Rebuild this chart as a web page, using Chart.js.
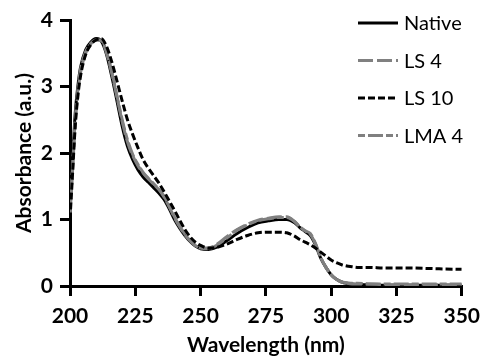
<!DOCTYPE html>
<html>
<head>
<meta charset="utf-8">
<script src="https://cdn.jsdelivr.net/npm/chart.js@4.4.0/dist/chart.umd.min.js"></script>
<style>
  html, body { margin: 0; padding: 0; background: #fff; }
  #wrap { width: 488px; height: 357px; }
</style>
</head>
<body>
<div id="wrap"><canvas id="myChart" width="488" height="357"></canvas></div>
<script>
var wavelengths = [200,201,202,203,204,206,208,210,212,214,216,218,220,222,224,226,228,230,232,234,236,238,240,242,244,246,248,250,253,256,260,264,268,272,276,280,283,286,288,290,292,294,296,298,300,302,304,306,308,310,315,320,330,340,350];

var native = [1.2,1.9,2.6,3.0,3.28,3.55,3.67,3.72,3.68,3.48,3.15,2.78,2.4,2.1,1.9,1.75,1.64,1.56,1.48,1.4,1.3,1.16,1.0,0.87,0.76,0.67,0.6,0.56,0.55,0.58,0.68,0.79,0.88,0.95,0.98,1.0,1.0,0.95,0.88,0.82,0.76,0.62,0.42,0.28,0.17,0.1,0.06,0.04,0.03,0.02,0.02,0.01,0.01,0.01,0.01];
var ls4 = [1.1,1.8,2.5,2.95,3.25,3.52,3.65,3.7,3.69,3.5,3.2,2.84,2.47,2.17,1.96,1.81,1.7,1.61,1.53,1.45,1.34,1.19,1.03,0.89,0.77,0.68,0.61,0.57,0.57,0.62,0.74,0.85,0.93,0.99,1.02,1.04,1.04,0.97,0.89,0.83,0.79,0.64,0.43,0.28,0.17,0.1,0.06,0.04,0.03,0.03,0.03,0.02,0.02,0.02,0.02];
var ls10 = [1.0,1.7,2.4,2.85,3.15,3.48,3.63,3.7,3.72,3.6,3.37,3.08,2.78,2.5,2.28,2.08,1.9,1.77,1.66,1.55,1.42,1.28,1.14,0.99,0.85,0.74,0.66,0.61,0.57,0.58,0.63,0.7,0.76,0.8,0.81,0.81,0.8,0.75,0.7,0.66,0.62,0.57,0.51,0.45,0.39,0.35,0.32,0.3,0.29,0.28,0.28,0.27,0.27,0.26,0.25];
var lma4 = [1.1,1.75,2.45,2.9,3.2,3.5,3.64,3.7,3.7,3.52,3.22,2.86,2.5,2.2,1.98,1.83,1.71,1.62,1.54,1.46,1.35,1.2,1.04,0.9,0.78,0.68,0.61,0.57,0.56,0.61,0.72,0.84,0.92,0.98,1.01,1.03,1.03,0.97,0.89,0.83,0.78,0.63,0.43,0.28,0.17,0.1,0.06,0.05,0.04,0.04,0.03,0.03,0.03,0.03,0.03];

var xTicks = [200,225,250,275,300,325,350];
var yTicks = [0,1,2,3,4];

function points(values) {
  return wavelengths.map(function(w, i) { return { x: w, y: values[i] }; });
}

function line(label, values, color, dash, order) {
  return {
    label: label,
    data: points(values),
    borderColor: color,
    borderWidth: 3,
    borderDash: dash,
    pointRadius: 0,
    fill: false,
    cubicInterpolationMode: 'monotone',
    order: order
  };
}

// legend drawn inside the plot, top right
var sideLegend = {
  id: 'sideLegend',
  afterDraw: function(chart) {
    var ctx = chart.ctx;
    var x0 = 358, x1 = 398, y0 = 23, gap = 37.5;
    ctx.save();
    chart.data.datasets.forEach(function(ds, i) {
      var y = y0 + i * gap;
      ctx.beginPath();
      ctx.setLineDash(ds.borderDash || []);
      ctx.lineWidth = 3;
      ctx.strokeStyle = ds.borderColor;
      ctx.moveTo(x0, y);
      ctx.lineTo(x1, y);
      ctx.stroke();
      ctx.setLineDash([]);
      ctx.fillStyle = '#000';
      ctx.font = '20px Lato';
      ctx.textBaseline = 'middle';
      ctx.fillText(ds.label, 404, y + 1);
    });
    ctx.restore();
  }
};

var tickFont = { family: 'Lato', size: 21, weight: 'bold' };
var titleFont = { family: 'Lato', size: 21, weight: 'bold', lineHeight: 1 };

var ctx = document.getElementById('myChart').getContext('2d');
var chart = new Chart(ctx, {
  type: 'line',
  data: {
    datasets: [
      line('Native', native, '#000000', [], 4),
      line('LS 4', ls4, '#808080', [15, 4], 3),
      line('LS 10', ls10, '#000000', [7, 3], 1),
      line('LMA 4', lma4, '#808080', [7, 3, 15, 3], 2)
    ]
  },
  options: {
    responsive: false,
    animation: false,
    devicePixelRatio: 1,
    layout: { padding: { top: 20, right: 22, left: 0, bottom: 0 } },
    plugins: {
      legend: { display: false },
      tooltip: { enabled: false }
    },
    scales: {
      x: {
        type: 'linear',
        min: 200,
        max: 350,
        afterFit: function(scale) { scale.height = 71; },
        afterBuildTicks: function(scale) {
          scale.ticks = xTicks.map(function(v) { return { value: v }; });
        },
        grid: { drawOnChartArea: false, drawTicks: true, tickLength: 10, color: '#000', lineWidth: 3 },
        border: { display: true, color: '#000', width: 3 },
        ticks: { color: '#000', font: tickFont, padding: 8, maxRotation: 0 },
        title: { display: true, text: 'Wavelength (nm)', color: '#000', font: titleFont, padding: { top: 0, bottom: 1 } }
      },
      y: {
        min: 0,
        max: 4,
        afterFit: function(scale) { scale.width = 70; },
        afterBuildTicks: function(scale) {
          scale.ticks = yTicks.map(function(v) { return { value: v }; });
        },
        grid: { drawOnChartArea: false, drawTicks: true, tickLength: 10, color: '#000', lineWidth: 3 },
        border: { display: true, color: '#000', width: 3 },
        ticks: { color: '#000', font: tickFont, padding: 7 },
        title: { display: true, text: 'Absorbance (a.u.)', color: '#000', font: titleFont, padding: { top: 14, bottom: 0 } }
      }
    }
  },
  plugins: [sideLegend]
});
</script>
</body>
</html>
